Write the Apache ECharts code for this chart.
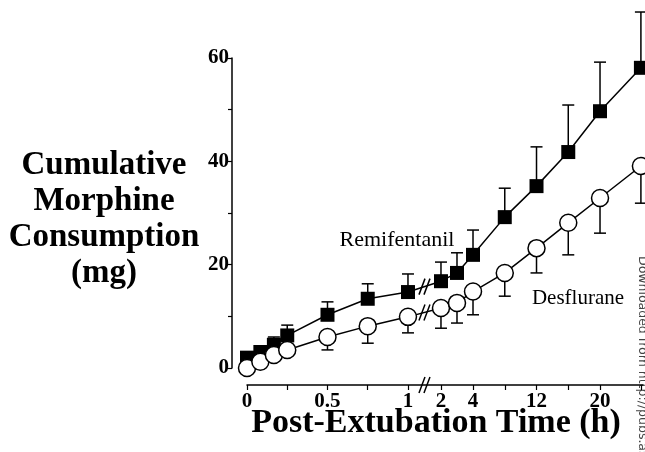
<!DOCTYPE html>
<html>
<head>
<meta charset="utf-8">
<title>Cumulative Morphine Consumption</title>
<script src="https://cdn.jsdelivr.net/npm/echarts@6.0.0/dist/echarts.min.js"></script>
<style>
  html, body { margin: 0; padding: 0; background: #fff; }
  #chart { width: 645px; height: 452px; }
</style>
</head>
<body>
<div id="chart"></div>
<script>
// time after extubation (h): 0, 5, 10, 15, 30, 45 min, then hours
const hours = [0, 0.083, 0.167, 0.25, 0.5, 0.75, 1, 2, 3, 4, 8, 12, 16, 20, 24];

// cumulative morphine (mg), mean and SD
const remiMean = [2.0, 3.1, 4.5, 6.3, 10.3, 13.4, 14.7, 16.8, 18.4, 21.9, 29.2, 35.2, 41.8, 49.7, 58.1];
const remiSD   = [0, 0, 1.5, 2.0, 2.5, 2.9, 3.5, 3.7, 3.9, 4.8, 5.6, 7.6, 9.1, 9.5, 10.8];
const desMean  = [0, 1.2, 2.5, 3.5, 6.0, 8.1, 9.9, 11.6, 12.6, 14.8, 18.4, 23.2, 28.1, 32.9, 39.1];
const desSD    = [0, 0, 0, 0, 2.5, 3.3, 3.1, 3.9, 3.9, 4.5, 4.5, 4.8, 6.2, 6.8, 7.2];

const xTickHours  = [0, 0.25, 0.5, 0.75, 1, 2, 4, 8, 12, 16, 20, 24];
const xLabelHours = [0, 0.5, 1, 2, 4, 12, 20];
const xLabels     = ['0', '0.5', '1', '2', '4', '12', '20'];
const yLabels     = [0, 20, 40, 60];

// broken time axis: first hour stretched, the rest squeezed after the break
const breakHours = [0, 1, 2, 4, 20, 24];
const breakUnits = [0, 1, 1.205, 1.404, 2.193, 2.447];

function toAxis(h) {
  for (let i = 1; i < breakHours.length; i++) {
    if (h <= breakHours[i]) {
      const t = (h - breakHours[i - 1]) / (breakHours[i] - breakHours[i - 1]);
      return breakUnits[i - 1] + t * (breakUnits[i] - breakUnits[i - 1]);
    }
  }
  return breakUnits[breakUnits.length - 1];
}

const SERIF = '"Liberation Serif", "DejaVu Serif", serif';
const X_OFFSET = 17;

const chart = echarts.init(document.getElementById('chart'));

function errorSeries(mean, sd, dir) {
  return {
    type: 'custom',
    clip: false,
    z: 1,
    silent: true,
    encode: { x: 0, y: 1 },
    data: hours.map((h, i) => [toAxis(h), mean[i], sd[i]]),
    renderItem: function (params, api) {
      const sdv = api.value(2);
      if (!sdv) return;
      const p0 = api.coord([api.value(0), api.value(1)]);
      const p1 = api.coord([api.value(0), api.value(1) + dir * sdv]);
      const st = { stroke: '#000', lineWidth: 1.5 };
      return {
        type: 'group',
        children: [
          { type: 'line', shape: { x1: p0[0], y1: p0[1], x2: p1[0], y2: p1[1] }, style: st },
          { type: 'line', shape: { x1: p1[0] - 6, y1: p1[1], x2: p1[0] + 6, y2: p1[1] }, style: st }
        ]
      };
    }
  };
}

// double slash centred on a point
function slashes(cx, cy) {
  const st = { stroke: '#000', lineWidth: 1.5 };
  return {
    type: 'group',
    children: [-2.5, 2.5].map(dx => ({
      type: 'line',
      shape: { x1: cx + dx - 3, y1: cy + 8, x2: cx + dx + 3, y2: cy - 8 },
      style: st
    }))
  };
}

const breakX = (toAxis(1) + toAxis(2)) / 2;

const option = {
  animation: false,
  backgroundColor: '#fff',
  grid: { left: 247, right: 2, top: 58, bottom: 84 },
  xAxis: {
    type: 'value',
    min: 0,
    max: 2.46,
    offset: X_OFFSET,
    splitLine: { show: false },
    axisLine: { show: true, onZero: false, lineStyle: { color: '#000', width: 1.5 } },
    axisTick: {
      show: true, length: 5, inside: false,
      customValues: xTickHours.map(toAxis),
      lineStyle: { color: '#000', width: 1.2 }
    },
    axisLabel: {
      customValues: xLabelHours.map(toAxis),
      margin: 6,
      color: '#000',
      fontFamily: SERIF,
      fontWeight: 'bold',
      fontSize: 21,
      formatter: function (v) {
        const i = xLabelHours.findIndex(h => Math.abs(toAxis(h) - v) < 1e-6);
        return i >= 0 ? xLabels[i] : '';
      }
    }
  },
  yAxis: {
    type: 'value',
    min: 0,
    max: 60,
    interval: 10,
    offset: 15,
    splitLine: { show: false },
    axisLine: { show: true, onZero: false, lineStyle: { color: '#000', width: 1.5 } },
    axisTick: { show: true, length: 4, inside: false, lineStyle: { color: '#000', width: 1.2 } },
    axisLabel: {
      margin: 3,
      color: '#000',
      fontFamily: SERIF,
      fontWeight: 'bold',
      fontSize: 21,
      formatter: v => (yLabels.indexOf(v) >= 0 ? String(v) : '')
    }
  },
  series: [
    errorSeries(remiMean, remiSD, 1),
    errorSeries(desMean, desSD, -1),
    {
      name: 'Remifentanil',
      type: 'line',
      z: 2,
      data: hours.map((h, i) => [toAxis(h), remiMean[i]]),
      symbol: 'rect',
      symbolSize: 14,
      clip: false,
      lineStyle: { color: '#000', width: 1.5 },
      itemStyle: { color: '#000' }
    },
    {
      name: 'Desflurane',
      type: 'line',
      z: 3,
      data: hours.map((h, i) => [toAxis(h), desMean[i]]),
      symbol: 'circle',
      symbolSize: 17,
      showAllSymbol: true,
      clip: false,
      lineStyle: { color: '#000', width: 1.5 },
      itemStyle: { color: '#fff', borderColor: '#000', borderWidth: 1.5 }
    },
    {
      // break marks on both lines, between 1 h and 2 h
      type: 'custom',
      z: 4,
      clip: false,
      silent: true,
      encode: { x: 0, y: 1 },
      data: [
        [breakX, (remiMean[6] + remiMean[7]) / 2],
        [breakX, (desMean[6] + desMean[7]) / 2]
      ],
      renderItem: function (params, api) {
        const p = api.coord([api.value(0), api.value(1)]);
        return slashes(p[0], p[1]);
      }
    },
    {
      // break mark on the time axis
      type: 'custom',
      z: 4,
      clip: false,
      silent: true,
      encode: { x: 0, y: 1 },
      data: [[breakX, 0]],
      renderItem: function (params, api) {
        const p = api.coord([api.value(0), api.value(1)]);
        return slashes(p[0], p[1] + X_OFFSET);
      }
    }
  ],
  graphic: [
    {
      type: 'text',
      x: 104,
      y: 147,
      style: {
        text: 'Cumulative\nMorphine\nConsumption\n(mg)',
        align: 'center',
        verticalAlign: 'top',
        lineHeight: 36,
        font: 'bold 33px ' + SERIF,
        fill: '#000'
      }
    },
    {
      type: 'text',
      x: 436,
      y: 423,
      style: {
        text: 'Post-Extubation Time (h)',
        align: 'center',
        verticalAlign: 'middle',
        font: 'bold 34px ' + SERIF,
        fill: '#000'
      }
    },
    {
      type: 'text',
      x: 397,
      y: 240,
      style: {
        text: 'Remifentanil',
        align: 'center',
        verticalAlign: 'middle',
        font: '22px ' + SERIF,
        fill: '#000'
      }
    },
    {
      type: 'text',
      x: 578,
      y: 298,
      style: {
        text: 'Desflurane',
        align: 'center',
        verticalAlign: 'middle',
        font: '21px ' + SERIF,
        fill: '#000'
      }
    },
    {
      type: 'text',
      x: 642,
      y: 256,
      rotation: -Math.PI / 2,
      style: {
        text: 'Downloaded from http://pubs.asahq.org',
        align: 'left',
        verticalAlign: 'middle',
        font: '12.5px "DejaVu Sans", sans-serif',
        fill: '#444'
      }
    }
  ]
};

chart.setOption(option);
</script>
</body>
</html>
